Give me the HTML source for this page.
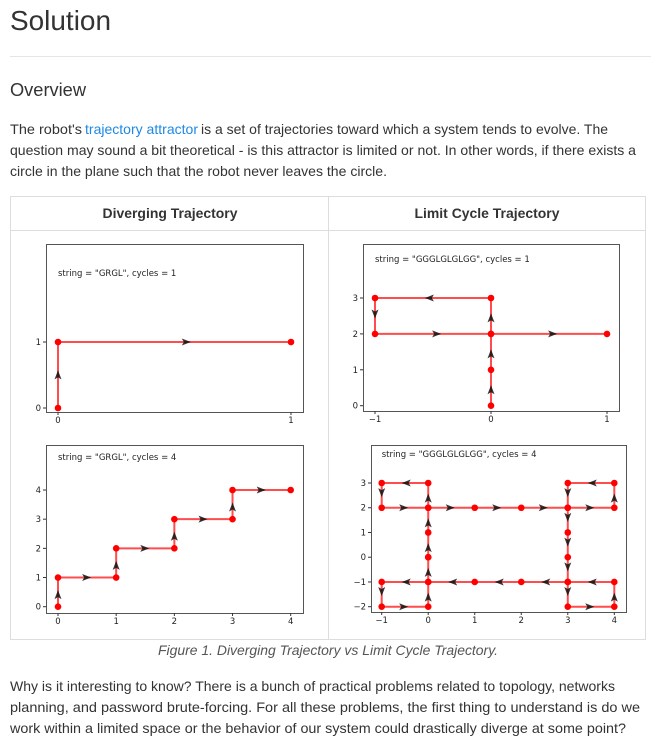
<!DOCTYPE html>
<html><head><meta charset="utf-8"><style>
html,body{margin:0;padding:0;background:#fff;width:651px;height:739px;overflow:hidden}
svg{display:block}
.t{font-family:"Liberation Sans",sans-serif;fill:#333}
.tk{font-family:"DejaVu Sans","Liberation Sans",sans-serif;font-size:8.5px;fill:#222}
</style></head><body>
<svg id="pg" width="651" height="739" viewBox="0 0 651 739">
<text class="t" x="10" y="30" font-size="28" textLength="101" lengthAdjust="spacingAndGlyphs">Solution</text>
<rect x="10" y="56" width="641" height="1" fill="#e5e5e5"/>
<text class="t" x="10" y="96" font-size="18" textLength="76" lengthAdjust="spacingAndGlyphs">Overview</text>
<g>
<text class="t" x="10" y="134" font-size="14" textLength="72" lengthAdjust="spacingAndGlyphs">The robot's</text>
<text class="t" x="85" y="134" font-size="14" textLength="113" lengthAdjust="spacingAndGlyphs" style="fill:#1e88e5">trajectory attractor</text>
<text class="t" x="201" y="134" font-size="14" textLength="407" lengthAdjust="spacingAndGlyphs">is a set of trajectories toward which a system tends to evolve. The</text>
<text class="t" x="10" y="155" font-size="14" textLength="626" lengthAdjust="spacingAndGlyphs">question may sound a bit theoretical - is this attractor is limited or not. In other words, if there exists a</text>
<text class="t" x="10" y="176" font-size="14" textLength="377" lengthAdjust="spacingAndGlyphs">circle in the plane such that the robot never leaves the circle.</text>
</g>
<g>
<rect x="10.5" y="196.5" width="635" height="443" fill="none" stroke="#ddd"/>
<line x1="10" y1="230.5" x2="646" y2="230.5" stroke="#ddd"/>
<line x1="328.5" y1="197" x2="328.5" y2="639" stroke="#ddd"/>
<text class="t" x="170" y="218" font-size="14" font-weight="bold" text-anchor="middle" textLength="135" lengthAdjust="spacingAndGlyphs">Diverging Trajectory</text>
<text class="t" x="487" y="218" font-size="14" font-weight="bold" text-anchor="middle" textLength="145" lengthAdjust="spacingAndGlyphs">Limit Cycle Trajectory</text>
</g>
<g id="charts"></g>
<text class="t" x="328" y="655" font-size="14" font-style="italic" text-anchor="middle" style="fill:#555" textLength="340" lengthAdjust="spacingAndGlyphs">Figure 1. Diverging Trajectory vs Limit Cycle Trajectory.</text>
<g>
<text class="t" x="10" y="691" font-size="14" textLength="605" lengthAdjust="spacingAndGlyphs">Why is it interesting to know? There is a bunch of practical problems related to topology, networks</text>
<text class="t" x="10" y="712" font-size="14" textLength="630" lengthAdjust="spacingAndGlyphs">planning, and password brute-forcing. For all these problems, the first thing to understand is do we</text>
<text class="t" x="10" y="733" font-size="14" textLength="616" lengthAdjust="spacingAndGlyphs">work within a limited space or the behavior of our system could drastically diverge at some point?</text>
</g>
</svg>
<script>
// chart data
const pathA_x=[0,0,1];
const pathA_y=[0,1,1];
const pathB_x=[0,0,1,1,2,2,3,3,4];
const pathB_y=[0,1,1,2,2,3,3,4,4];
const pathC_x=[0,0,0,0,-1,-1,0,1];
const pathC_y=[0,1,2,3,3,2,2,2];
const pathD_x=[0,0,0,0,-1,-1,0,1,2,3,4,4,3,3,3,3,3,3,4,4,3,2,1,0,-1,-1,0,0,0];
const pathD_y=[0,1,2,3,3,2,2,2,2,2,2,3,3,2,1,0,-1,-2,-2,-1,-1,-1,-1,-1,-1,-2,-2,-1,0];
const ticksA_x=[0,1], ticksA_y=[0,1];
const ticksB_x=[0,1,2,3,4], ticksB_y=[0,1,2,3,4];
const ticksC_x=[-1,0,1], ticksC_y=[0,1,2,3];
const ticksD_x=[-1,0,1,2,3,4], ticksD_y=[-2,-1,0,1,2,3];
const labelA='string = "GRGL", cycles = 1';
const labelB='string = "GRGL", cycles = 4';
const labelC='string = "GGGLGLGLGG", cycles = 1';
const labelD='string = "GGGLGLGLGG", cycles = 4';

const NS='http://www.w3.org/2000/svg';
const root=document.getElementById('charts');
function mk(tag,attrs,parent){const e=document.createElementNS(NS,tag);for(const k in attrs)e.setAttribute(k,attrs[k]);parent.appendChild(e);return e;}

function chart(name,frame,dom,xs,ys,tx,ty,label){
  const g=mk('g',{},root);
  
  
  const [fx0,fy0,fx1,fy1,px0,px1,py0,py1,ly]=frame;
  const sx=v=>px0+(v-dom[0])/(dom[1]-dom[0])*(px1-px0);
  const sy=v=>py0+(v-dom[2])/(dom[3]-dom[2])*(py1-py0);
  const fr=mk('rect',{x:fx0+.5,y:fy0+.5,width:fx1-fx0,height:fy1-fy0,fill:'#fff',stroke:'#555','stroke-width':1},g);
  
  
  tx.forEach(v=>{
    mk('line',{x1:sx(v),x2:sx(v),y1:fy1,y2:fy1+3,stroke:'#333'},g);
    const t=mk('text',{x:sx(v),y:fy1+11,'text-anchor':'middle',class:'tk'},g);
    t.textContent=v<0?'\u2212'+(-v):String(v);
    
    
  });
  ty.forEach(v=>{
    mk('line',{x1:fx0-3,x2:fx0,y1:sy(v),y2:sy(v),stroke:'#333'},g);
    const t=mk('text',{x:fx0-5,y:sy(v)+3,'text-anchor':'end',class:'tk'},g);
    t.textContent=v<0?'\u2212'+(-v):String(v);
    
    
  });
  const lt=mk('text',{x:sx(dom[0]),y:ly,class:'tk','font-size':'7.5'},g);
  lt.textContent=label;
  
  
  const pts=xs.map((x,i)=>[sx(x),sy(ys[i])]);
  const pl=mk('polyline',{points:pts.map(p=>p.join(',')).join(' '),fill:'none',stroke:'#ff0000','stroke-opacity':.7,'stroke-width':2},g);
  
  
  for(let i=1;i<pts.length;i++){
    const [a,b]=[pts[i-1],pts[i]];
    const dx=b[0]-a[0],dy=b[1]-a[1],L=Math.hypot(dx,dy);if(!L)continue;
    const ux=dx/L,uy=dy/L;
    const tipx=a[0]+dx*0.57,tipy=a[1]+dy*0.57;
    const bx=tipx-ux*9,by=tipy-uy*9;
    const ar=mk('polygon',{points:`${tipx},${tipy} ${bx-uy*3.5},${by+ux*3.5} ${bx+ux*2},${by+uy*2} ${bx+uy*3.5},${by-ux*3.5}`,fill:'#111','fill-opacity':.85},g);
    
    
  }
  pts.forEach(p=>{
    const c=mk('circle',{cx:p[0],cy:p[1],r:3.3,fill:'#ff0000'},g);
    
    
  });
}
// frame: fx0,fy0,fx1,fy1, px(dom0),px(dom1), py(dom2),py(dom3), labelY
chart('chart-diverging-1',[46,244,303,412,58,291,408,342,276],[0,1,0,1],pathA_x,pathA_y,ticksA_x,ticksA_y,labelA);
chart('chart-diverging-4',[46,445,303,613,58,290.7,606.7,490,460],[0,4,0,4],pathB_x,pathB_y,ticksB_x,ticksB_y,labelB);
chart('chart-limit-1',[363,244,619,411,375,607,405.7,298,262],[-1,1,0,3],pathC_x,pathC_y,ticksC_x,ticksC_y,labelC);
chart('chart-limit-4',[371,445,626,612,381.7,614.3,606.7,483,457],[-1,4,-2,3],pathD_x,pathD_y,ticksD_x,ticksD_y,labelD);
</script>
</body></html>
